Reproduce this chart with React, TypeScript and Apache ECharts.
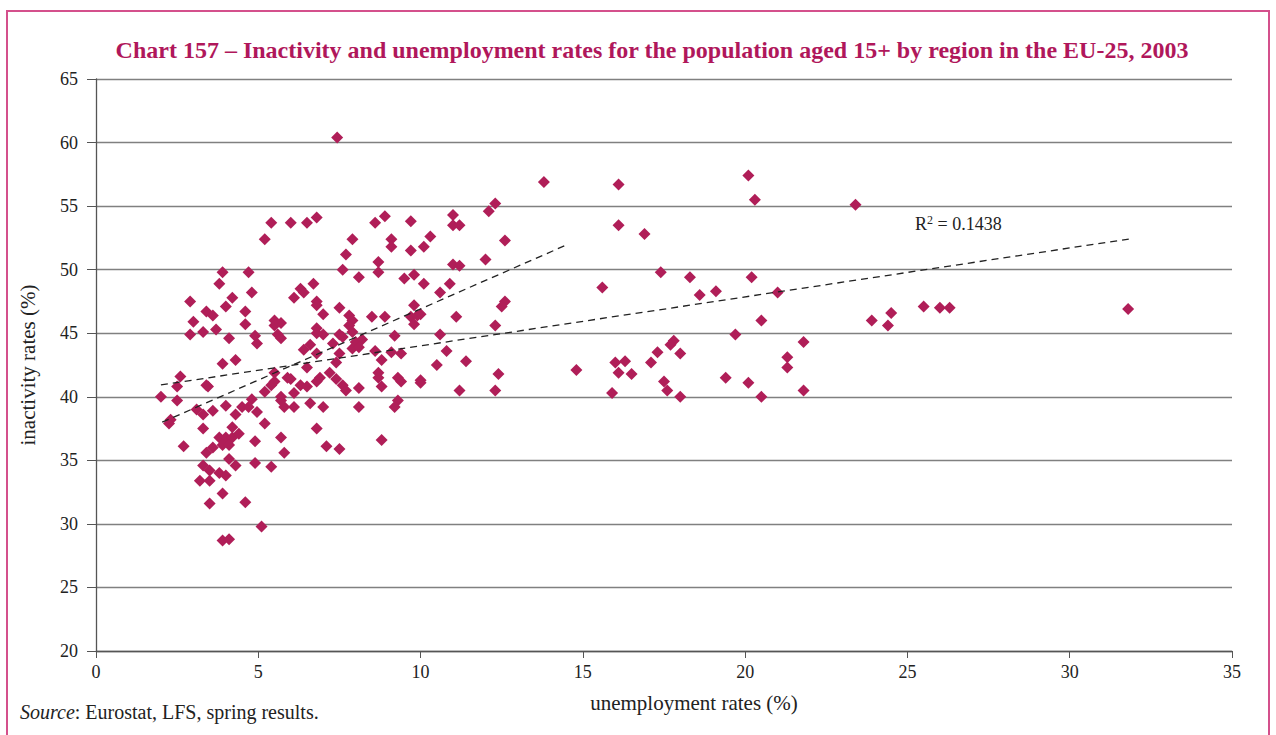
import React, { useEffect, useRef } from "react";
import * as echarts from "echarts";

const TITLE =
  "Chart 157 – Inactivity and unemployment rates for the population aged 15+ by region in the EU-25, 2003";
const X_NAME = "unemployment rates (%)";
const Y_NAME = "inactivity rates (%)";
const R2_LABEL = "0.1438";

// regions with unemployment below 6 %
const regionsLow: [number, number][] = [
  [3.9, 49.8], [4.7, 49.8], [3.8, 48.9], [2.9, 47.5], [4.8, 48.2], [4.2, 47.8], [4.0, 47.1],
  [3.4, 46.7], [3.6, 46.4], [4.6, 46.7], [4.6, 45.7], [3.0, 45.9], [2.9, 44.9], [3.3, 45.1],
  [3.7, 45.3], [4.1, 44.6], [4.9, 44.8], [4.96, 44.2], [5.5, 46.0], [5.6, 44.9], [5.5, 45.6],
  [3.9, 42.6], [4.3, 42.9], [2.6, 41.6], [2.5, 40.8], [2.0, 40.0], [2.5, 39.7], [3.4, 40.9],
  [3.45, 40.8], [5.5, 41.9], [5.5, 41.2], [5.9, 41.5], [3.1, 39.0], [3.3, 38.6], [3.6, 38.9],
  [4.0, 39.3], [4.3, 38.6], [4.5, 39.2], [4.8, 39.8], [4.96, 38.8], [5.2, 40.4], [5.4, 40.9],
  [4.7, 39.2], [5.7, 40.0], [2.3, 38.2], [2.25, 37.9], [3.3, 37.5], [2.7, 36.1], [5.2, 37.9],
  [3.8, 36.8], [4.0, 36.8], [4.2, 36.8], [4.4, 37.1], [4.2, 37.6], [3.9, 36.2], [3.6, 36.0],
  [3.4, 35.6], [4.1, 36.2], [4.9, 36.5], [4.1, 35.1], [4.3, 34.6], [4.9, 34.8], [5.4, 34.5],
  [3.3, 34.6], [3.5, 34.2], [3.8, 34.0], [4.0, 33.8], [3.2, 33.4], [3.5, 33.4], [3.9, 32.4],
  [3.5, 31.6], [4.6, 31.7], [5.1, 29.8], [3.9, 28.7], [4.1, 28.8], [5.2, 52.4], [5.4, 53.7],
];

// regions with unemployment between 6 and 10 %
const regionsMid: [number, number][] = [
  [7.43, 60.4], [6.0, 53.7], [6.5, 53.7], [6.8, 54.1], [8.6, 53.7], [8.9, 54.2], [9.7, 53.8],
  [7.9, 52.4], [9.1, 52.4], [9.1, 51.8], [7.7, 51.2], [9.7, 51.5], [7.6, 50.0], [8.1, 49.4],
  [8.7, 50.6], [8.7, 49.8], [9.5, 49.3], [9.8, 49.6], [6.7, 48.9], [6.3, 48.5], [6.4, 48.2],
  [6.1, 47.8], [6.8, 47.5], [6.8, 47.2], [7.5, 47.0], [9.8, 47.2], [7.0, 46.5], [7.8, 46.4],
  [7.9, 46.0], [7.8, 45.6], [7.9, 45.1], [8.5, 46.3], [8.9, 46.3], [9.7, 46.3], [9.9, 46.4],
  [9.8, 45.7], [5.7, 45.8], [6.8, 45.4], [7.0, 44.9], [6.8, 45.0], [6.4, 43.7], [6.6, 44.1],
  [6.8, 43.4], [7.3, 44.2], [7.5, 44.9], [7.6, 44.7], [8.0, 44.3], [8.2, 44.5], [7.9, 43.8],
  [8.1, 43.9], [7.5, 43.4], [8.6, 43.6], [9.2, 44.8], [9.1, 43.5], [9.4, 43.4], [8.8, 42.9],
  [7.4, 42.7], [6.5, 42.3], [5.7, 44.6], [6.0, 41.4], [6.3, 40.9], [6.5, 40.8], [6.1, 40.3],
  [6.8, 41.2], [6.9, 41.5], [7.2, 41.9], [7.4, 41.4], [7.6, 40.9], [7.7, 40.5], [8.1, 40.7],
  [8.7, 41.9], [8.7, 41.5], [8.8, 40.8], [9.3, 41.5], [9.4, 41.2], [9.3, 39.7], [9.2, 39.2],
  [8.1, 39.2], [7.0, 39.2], [6.6, 39.5], [6.1, 39.2], [5.8, 39.2], [5.7, 39.7], [6.8, 37.5],
  [5.7, 36.8], [7.1, 36.1], [7.5, 35.9], [8.8, 36.6], [5.8, 35.6],
];

// regions with unemployment between 10 and 15 %
const regionsHigh: [number, number][] = [
  [12.3, 55.2], [12.1, 54.6], [11.0, 54.3], [11.0, 53.5], [11.2, 53.5], [10.3, 52.6],
  [10.1, 51.8], [12.6, 52.3], [12.0, 50.8], [11.0, 50.4], [11.2, 50.3], [10.1, 48.9],
  [10.9, 48.9], [10.6, 48.2], [12.6, 47.5], [12.5, 47.1], [11.1, 46.3], [10.0, 46.5],
  [12.3, 45.6], [10.6, 44.9], [10.8, 43.6], [10.5, 42.5], [11.4, 42.8], [12.4, 41.8],
  [10.0, 41.3], [10.0, 41.1], [11.2, 40.5], [12.3, 40.5], [13.8, 56.9], [14.8, 42.1],
];

// regions with unemployment of 15 % and more
const regionsVeryHigh: [number, number][] = [
  [15.6, 48.6], [16.1, 56.7], [20.1, 57.4], [20.3, 55.5], [16.1, 53.5], [16.9, 52.8],
  [17.4, 49.8], [18.3, 49.4], [20.2, 49.4], [18.6, 48.0], [19.1, 48.3], [21.0, 48.2],
  [20.5, 46.0], [19.7, 44.9], [21.8, 44.3], [17.8, 44.4], [17.7, 44.1], [17.3, 43.5],
  [18.0, 43.4], [17.1, 42.7], [21.3, 43.1], [21.3, 42.3], [16.0, 42.7], [16.3, 42.8],
  [16.1, 41.9], [16.5, 41.8], [19.4, 41.5], [20.1, 41.1], [17.5, 41.2], [17.6, 40.5],
  [15.9, 40.3], [18.0, 40.0], [20.5, 40.0], [21.8, 40.5], [23.4, 55.1], [23.9, 46.0],
  [24.4, 45.6], [24.5, 46.6], [25.5, 47.1], [26.0, 47.0], [26.3, 47.0], [31.8, 46.9],
];

// trend lines (end points)
const trendAll: [number, number][] = [[2.0, 40.93], [31.82, 52.41]];
const trendSub: [number, number][] = [[2.04, 38.0], [14.49, 51.94]];

const X_MIN = 0, X_MAX = 35, X_STEP = 5;
const Y_MIN = 20, Y_MAX = 65, Y_STEP = 5;

const FONT = "'Liberation Serif', 'Times New Roman', serif";
const MARKER = "#B01E58";

export default function App() {
  const ref = useRef<HTMLDivElement>(null);
  useEffect(() => {
    if (!ref.current) return;
    const chart = echarts.init(ref.current, undefined, { renderer: "svg" });
    const points = [...regionsLow, ...regionsMid, ...regionsHigh, ...regionsVeryHigh];
    const dash = { color: "#222", width: 1.3, type: [7, 5] as number[] };
    chart.setOption({
      animation: false,
      backgroundColor: "#fff",
      textStyle: { fontFamily: FONT },
      title: {
        text: TITLE,
        left: 647,
        textAlign: "center",
        top: 33,
        textStyle: { fontFamily: FONT, fontSize: 24, fontWeight: "bold", color: "#B0175B" },
      },
      grid: { left: 96, right: 44, top: 79, bottom: 84 },
      xAxis: {
        type: "value",
        min: X_MIN,
        max: X_MAX,
        interval: X_STEP,
        axisLine: { show: true, lineStyle: { color: "#555", width: 1.3 } },
        axisTick: { show: true, length: 7, lineStyle: { color: "#555" } },
        axisLabel: { fontFamily: FONT, fontSize: 18, color: "#222", margin: 12 },
        splitLine: { show: false },
      },
      yAxis: {
        type: "value",
        min: Y_MIN,
        max: Y_MAX,
        interval: Y_STEP,
        name: Y_NAME,
        nameLocation: "middle",
        nameGap: 58,
        nameTextStyle: { fontFamily: FONT, fontSize: 21, color: "#222" },
        axisLine: { show: true, onZero: false, lineStyle: { color: "#555", width: 1.3 } },
        axisTick: { show: true, length: 9, lineStyle: { color: "#555" } },
        axisLabel: { fontFamily: FONT, fontSize: 18, color: "#222", margin: 18 },
        splitLine: { show: true, lineStyle: { color: "#808080", width: 1.3 } },
      },
      series: [
        {
          type: "line",
          data: trendAll,
          symbol: "none",
          lineStyle: dash,
          silent: true,
          z: 3,
        },
        {
          type: "line",
          data: trendSub,
          symbol: "none",
          lineStyle: dash,
          silent: true,
          z: 3,
        },
        {
          type: "scatter",
          data: points,
          symbol: "diamond",
          symbolSize: 12,
          itemStyle: { color: MARKER, opacity: 1 },
          z: 2,
        },
      ],
      graphic: [
        {
          type: "rect",
          shape: { x: 7, y: 11, width: 1262, height: 740 },
          style: { fill: "none", stroke: "#D4508C", lineWidth: 2 },
          silent: true,
        },
        {
          type: "text",
          x: 915,
          y: 224,
          style: {
            text: "R{s|2} = " + R2_LABEL,
            rich: {
              s: { fontFamily: FONT, fontSize: 12, color: "#222", verticalAlign: "top", padding: [0, 0, 8, 0] },
            },
            fontFamily: FONT,
            fontSize: 18,
            fill: "#222",
            verticalAlign: "middle",
          },
        },
        {
          type: "text",
          x: 694,
          y: 703,
          style: {
            text: X_NAME,
            fontFamily: FONT,
            fontSize: 21,
            fill: "#222",
            align: "center",
            verticalAlign: "middle",
          },
        },
        {
          type: "text",
          x: 20,
          y: 712,
          style: {
            text: "{i|Source}: Eurostat, LFS, spring results.",
            rich: { i: { fontFamily: FONT, fontSize: 20, fontStyle: "italic", color: "#222" } },
            fontFamily: FONT,
            fontSize: 20,
            fill: "#222",
            verticalAlign: "middle",
          },
        },
      ],
    });
    return () => chart.dispose();
  }, []);
  return (
    <div
      ref={ref}
      style={{ position: "fixed", left: 0, top: 0, width: 1276, height: 735, background: "#fff" }}
    />
  );
}
